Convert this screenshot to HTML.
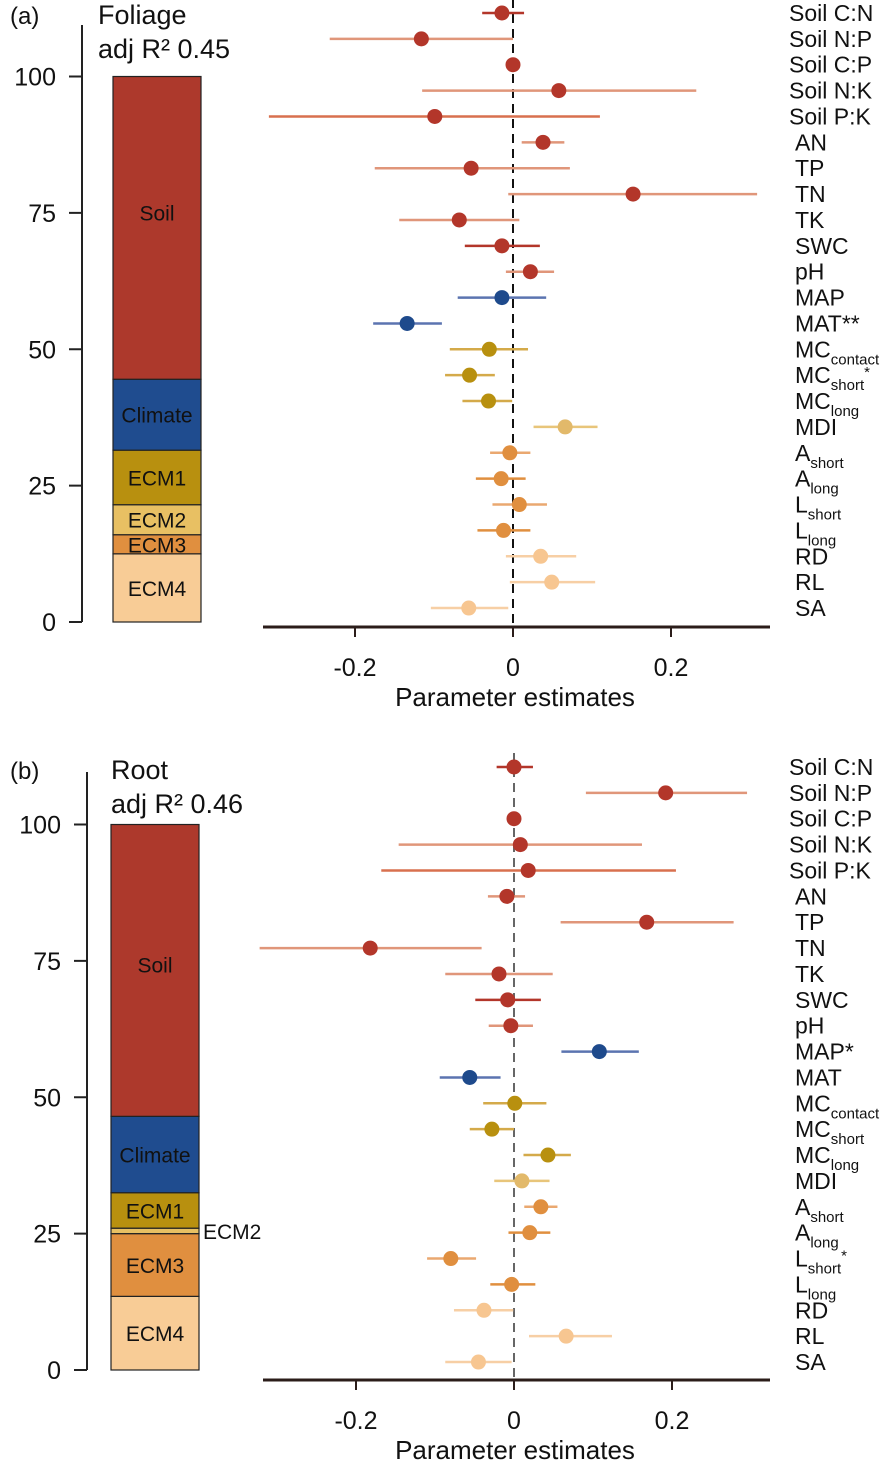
<!DOCTYPE html>
<html><head><meta charset="utf-8"><style>
body{margin:0;background:#fff;}
svg{display:block;font-family:"Liberation Sans",Arial,sans-serif;}
</style></head><body>
<svg id="chart" width="886" height="1476" viewBox="0 0 886 1476"></svg>
<script>
const labels=[["Soil C:N"],["Soil N:P"],["Soil C:P"],["Soil N:K"],["Soil P:K"],["AN"],["TP"],["TN"],["TK"],["SWC"],["pH"],["MAP"],["MAT"],["MC","contact"],["MC","short"],["MC","long"],["MDI"],["A","short"],["A","long"],["L","short"],["L","long"],["RD"],["RL"],["SA"]];
const suffixA=["","","","","","","","","","","","","**","","*","","","","","","","","",""];
const suffixB=["","","","","","","","","","","","*","","","","","","","","*","","","",""];
const estA=[-0.014,-0.116,0,0.058,-0.099,0.038,-0.053,0.152,-0.068,-0.014,0.022,-0.014,-0.134,-0.03,-0.055,-0.031,0.066,-0.004,-0.015,0.008,-0.012,0.035,0.049,-0.056];
const loA=[-0.039,-0.232,0,-0.115,-0.309,0.011,-0.175,-0.006,-0.144,-0.061,-0.009,-0.07,-0.177,-0.08,-0.086,-0.064,0.026,-0.029,-0.047,-0.026,-0.045,-0.009,-0.004,-0.104];
const hiA=[0.014,0,0,0.232,0.11,0.065,0.072,0.309,0.008,0.034,0.052,0.042,-0.09,0.019,-0.023,-0.001,0.107,0.022,0.016,0.043,0.022,0.08,0.104,-0.006];
const estB=[0,0.192,0,0.008,0.018,-0.009,0.168,-0.182,-0.019,-0.008,-0.004,0.108,-0.056,0.001,-0.028,0.043,0.01,0.034,0.02,-0.08,-0.003,-0.038,0.066,-0.045];
const loB=[-0.022,0.091,0,-0.146,-0.168,-0.033,0.059,-0.322,-0.087,-0.049,-0.032,0.06,-0.094,-0.039,-0.056,0.012,-0.025,0.013,-0.007,-0.11,-0.03,-0.076,0.019,-0.087];
const hiB=[0.024,0.295,0,0.162,0.205,0.014,0.278,-0.041,0.049,0.034,0.024,0.158,-0.017,0.041,0,0.072,0.045,0.055,0.046,-0.048,0.027,-0.001,0.124,-0.003];
const xTicks=[-0.2,0,0.2];
const xTickLabels=["-0.2","0","0.2"];
const yTicks=[0,25,50,75,100];
const groups=["Soil","Climate","ECM1","ECM2","ECM3","ECM4"];
const shareA=[55.5,13,10,5.5,3.5,12.5];
const shareB=[53.5,14,6.5,1,11.5,13.5];
const ptCol=["#b3362a","#b3362a","#b3362a","#b3362a","#b3362a","#b3362a","#b3362a","#b3362a","#b3362a","#b3362a","#b3362a","#1e4a8c","#1e4a8c","#b8900f","#b8900f","#b8900f","#e2b96a","#e08f3f","#e08f3f","#e08f3f","#e08f3f","#f7c691","#f7c691","#f7c691"];
const ciCol=["#b3362a","#e0967a","#b3362a","#e0967a","#d8704f","#e0967a","#e0967a","#e0967a","#e0967a","#b3362a","#e0967a","#5b74b0","#5b74b0","#d4aa4a","#d4aa4a","#d4aa4a","#e8c57a","#eaa870","#e08f3f","#eaa870","#e08f3f","#f7cfa5","#f7cfa5","#f7cfa5"];
const barCol=["#ad392c","#1f4c8f","#b8900f","#e8c063","#e08f3f","#f8cc96"];
const NS="http://www.w3.org/2000/svg";
const svg=document.getElementById('chart');
function mk(tag,attrs,parent){const e=document.createElementNS(NS,tag);for(const k in attrs)e.setAttribute(k,attrs[k]);(parent||svg).appendChild(e);return e;}
function panel(p){
  const g=mk('g',{});
  
  
  const xS=v=>p.x0+v*790;
  const yRow=i=>p.row0+i*25.87;
  const yS=v=>p.y0-v*5.455;
  const ax=mk('line',{x1:p.ax,y1:p.axTop,x2:p.ax,y2:yS(0),stroke:'#222','stroke-width':2},g);
  
  yTicks.forEach(t=>{
    mk('line',{x1:p.ax-13,x2:p.ax,y1:yS(t),y2:yS(t),stroke:'#222','stroke-width':2},g);
    const tx=mk('text',{x:p.ax-26,y:yS(t)+9,'font-size':25,'text-anchor':'end',fill:'#111'},g);
    tx.textContent=t;
    
  });
  let cum=0;
  const shares=p.shares;
  for(let i=shares.length-1;i>=0;i--){
    const yb=yS(cum),yt=yS(cum+shares[i]);cum+=shares[i];
    const r=mk('rect',{x:p.bx,y:yt,width:p.bw,height:yb-yt,fill:barCol[i],stroke:'#222','stroke-width':1.2},g);
    
    if(p.id==='b'&&i===3){
      const t=mk('text',{x:p.bx+p.bw+4,y:(yb+yt)/2+8,'font-size':21,fill:'#111'},g);t.textContent=groups[i];
      
    } else {
      const t=mk('text',{x:p.bx+p.bw/2,y:(i===0?yt+(yb-yt)*p.soilFrac:(yb+yt)/2)+8,'font-size':21,'text-anchor':'middle',fill:'#111'},g);t.textContent=groups[i];
      
    }
  }
  const pl=mk('text',{x:10,y:p.titleY,'font-size':24,fill:'#111'},g);pl.textContent='('+p.id+')';
  
  p.title.forEach((s,k)=>{const t=mk('text',{x:p.titleX,y:p.titleY+k*34,'font-size':27,fill:'#111'},g);t.textContent=s;
    });
  const zl=mk('line',{x1:xS(0),x2:xS(0),y1:p.row0-14,y2:p.axisY,stroke:p.id==='a'?'#111':'#666','stroke-width':2,'stroke-dasharray':'9,6'},g);
  
  const xa=mk('line',{x1:263,x2:770,y1:p.axisY,y2:p.axisY,stroke:'#2b1d1a','stroke-width':3},g);
  
  xTicks.forEach((t,k)=>{
    mk('line',{x1:xS(t),x2:xS(t),y1:p.axisY,y2:p.axisY+10,stroke:'#2b1d1a','stroke-width':2},g);
    const tx=mk('text',{x:xS(t),y:p.axisY+49,'font-size':25,'text-anchor':'middle',fill:'#111'},g);tx.textContent=xTickLabels[k];
    
  });
  const xt=mk('text',{x:515,y:p.axisY+79,'font-size':26,'text-anchor':'middle',fill:'#111'},g);xt.textContent='Parameter estimates';
  
  labels.forEach((lab,i)=>{
    const y=yRow(i);
    const ci=mk('line',{x1:xS(p.lo[i]),x2:xS(p.hi[i]),y1:y,y2:y,stroke:ciCol[i],'stroke-width':2.5},g);
    
    const c=mk('circle',{cx:xS(p.est[i]),cy:y,r:7.5,fill:ptCol[i]},g);
    
    const indent=i<5?0:6;
    const t=mk('text',{x:789+indent,y:y+8,'font-size':23,fill:'#111'},g);
    
    t.appendChild(document.createTextNode(lab[0]));
    if(lab[1]){const s=mk('tspan',{'font-size':15,dy:7},t);s.textContent=lab[1];}
    if(p.suffix[i]){const s=mk('tspan',{'font-size':lab[1]?15:23,dy:lab[1]?-13:0},t);s.textContent=p.suffix[i];}
  });
}
panel({id:'a',x0:513,row0:13,y0:622,ax:82,axTop:25,bx:113,bw:88,shares:shareA,soilFrac:0.45,titleX:98,titleY:24,title:['Foliage','adj R² 0.45'],axisY:627,est:estA,lo:loA,hi:hiA,suffix:suffixA});
panel({id:'b',x0:514,row0:767,y0:1370,ax:87,axTop:772,bx:111,bw:88,shares:shareB,soilFrac:0.48,titleX:111,titleY:779,title:['Root','adj R² 0.46'],axisY:1380,est:estB,lo:loB,hi:hiB,suffix:suffixB});
</script>
</body></html>
